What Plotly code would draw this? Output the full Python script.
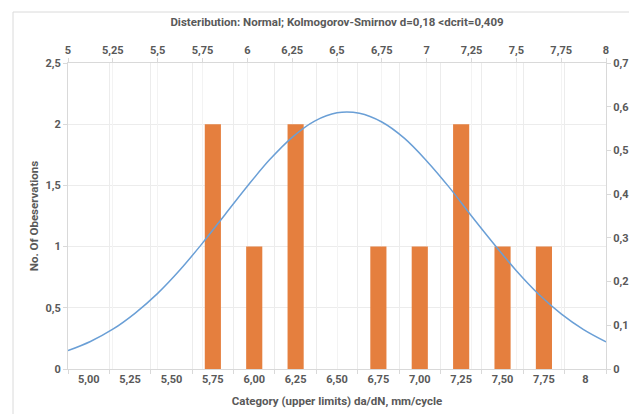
import plotly.graph_objects as go

# Histogram categories (upper limits) and counts
categories = ["5,00", "5,25", "5,50", "5,75", "6,00", "6,25", "6,50",
              "6,75", "7,00", "7,25", "7,50", "7,75", "8"]
counts = [0, 0, 0, 2, 1, 2, 0, 1, 1, 2, 1, 1, 0]

# Fitted normal curve (top axis x, right axis y)
curve_x = [5.0, 5.125, 5.25, 5.375, 5.5, 5.625, 5.75, 5.875, 6.0, 6.125, 6.25,
           6.375, 6.5, 6.625, 6.75, 6.875, 7.0, 7.125, 7.25, 7.375, 7.5,
           7.625, 7.75, 7.875, 8.0]
curve_y = [0.042, 0.063, 0.091, 0.128, 0.173, 0.227, 0.288, 0.353, 0.418,
           0.479, 0.530, 0.567, 0.586, 0.585, 0.565, 0.528, 0.476, 0.416,
           0.350, 0.286, 0.225, 0.171, 0.126, 0.090, 0.062]

title_text = "Disteribution: Normal; Kolmogorov-Smirnov d=0,18 <dcrit=0,409"
x_title = "Category (upper limits) da/dN, mm/cycle"
y_title = "No. Of Obeservations"

FONT = "Roboto, Liberation Sans, sans-serif"
GRAY = "#595959"
GRID = "#ECECEC"
LINE = "#D9D9D9"
FS = 11

fig = go.Figure()
fig.add_trace(go.Bar(
    x=categories, y=counts, xaxis="x", yaxis="y",
    marker=dict(color="#E57F3E", line=dict(width=0)),
    showlegend=False,
))
fig.add_trace(go.Scatter(
    x=curve_x, y=curve_y, xaxis="x2", yaxis="y2", mode="lines",
    line=dict(color="#6A9FD6", width=1.5, shape="spline"),
    showlegend=False,
))

W, H = 629, 414
ml, mr, mt, mb = 68, 23, 63, 45
pw, ph = W - ml - mr, H - mt - mb

fig.update_layout(
    width=W, height=H,
    margin=dict(l=ml, r=mr, t=mt, b=mb, autoexpand=False),
    paper_bgcolor="white", plot_bgcolor="white",
    separators=", ",
    font=dict(family=FONT, size=FS, color=GRAY),
    bargap=0.61,
    title=dict(text="<b>" + title_text + "</b>", x=337 / W, xanchor="center",
               y=1 - 22 / H, yanchor="middle", font=dict(size=FS + 0.5, color=GRAY)),
    xaxis=dict(
        type="category", tickson="boundaries", showgrid=True, gridcolor=GRID,
        showline=True, linecolor=LINE, ticks="outside", ticklen=4, tickcolor=LINE,
        tickfont=dict(size=FS, color=GRAY), tickprefix="<b>", ticksuffix="</b>",
        title=dict(text="<b>" + x_title + "</b>", standoff=11,
                   font=dict(size=FS + 0.5, color=GRAY)),
        range=[-0.5, 12.5], automargin=False,
    ),
    xaxis2=dict(
        overlaying="x", side="top", range=[5, 8], dtick=0.25, tick0=5,
        showgrid=True, gridcolor="#F3F3F3", showline=True, linecolor=LINE,
        ticks="outside", ticklen=4, tickcolor=LINE, automargin=False,
        tickfont=dict(size=FS, color=GRAY), tickprefix="<b>", ticksuffix="</b>",
    ),
    yaxis=dict(
        range=[0, 2.5], dtick=0.5, showgrid=True, gridcolor=GRID,
        showline=True, linecolor=LINE, ticks="outside", ticklen=4, tickcolor=LINE,
        zeroline=False, tickfont=dict(size=FS, color=GRAY), automargin=False,
        tickprefix="<b>", ticksuffix="</b>",
        title=dict(text="<b>" + y_title + "</b>", standoff=4,
                   font=dict(size=FS + 0.5, color=GRAY)),
    ),
    yaxis2=dict(
        overlaying="y", side="right", range=[0, 0.7], dtick=0.1,
        showgrid=False, showline=True, linecolor=LINE, ticks="outside",
        ticklen=4, tickcolor=LINE, zeroline=False, automargin=False,
        tickfont=dict(size=FS, color=GRAY), tickprefix="<b>", ticksuffix="</b>",
    ),
)

# Outer chart-area frame (left and top edges visible)
fig.add_shape(type="rect", xref="paper", yref="paper",
              x0=(13 - ml) / pw, x1=(W + 20 - ml) / pw,
              y0=-(H + 20 - mt - ph) / ph, y1=(H - mb - 12) / ph,
              line=dict(color="#DADADA", width=1), layer="below")

fig.write_html("out.html")
